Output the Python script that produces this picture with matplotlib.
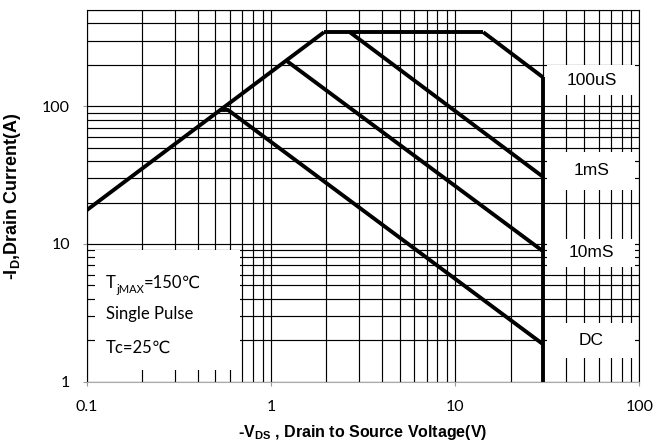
import matplotlib
matplotlib.use('Agg')
import matplotlib.pyplot as plt
from matplotlib.patches import Rectangle
from matplotlib.ticker import FixedLocator, FixedFormatter, NullFormatter, LogLocator

# safe operating area, -Vds (V) vs -Id (A)
rds_v = [0.1, 1.94]
rds_i = [17.6, 345]
top_v = [1.94, 14.2]
top_i = [345, 345]
us100_v = [14.2, 30]
us100_i = [345, 162]
ms1_v = [2.68, 30]
ms1_i = [345, 30.7]
ms10_v = [1.22, 30]
ms10_i = [213, 8.85]
dc_v = [0.53, 0.585, 30]
dc_i = [94, 94, 1.87]
vmax_v = [30, 30]
vmax_i = [1, 162]

x_ticks = [0.1, 1, 10, 100]
x_labels = ['0.1', '1', '10', '100']
y_ticks = [1, 10, 100]
y_labels = ['1', '10', '100']

curve_labels = ['100uS', '1mS', '10mS', 'DC']

fig = plt.figure(figsize=(6.68, 4.45), dpi=100)
ax = fig.add_axes([0.1298, 0.1422, 0.8275, 0.8353])
ax.set_xscale('log')
ax.set_yscale('log')
ax.set_xlim(0.1, 100)
ax.set_ylim(1, 500)

ax.xaxis.set_major_locator(FixedLocator(x_ticks))
ax.xaxis.set_major_formatter(FixedFormatter(x_labels))
ax.yaxis.set_major_locator(FixedLocator(y_ticks))
ax.yaxis.set_major_formatter(FixedFormatter(y_labels))
ax.xaxis.set_minor_locator(LogLocator(base=10, subs=range(2, 10)))
ax.yaxis.set_minor_locator(LogLocator(base=10, subs=range(2, 10)))
ax.xaxis.set_minor_formatter(NullFormatter())
ax.yaxis.set_minor_formatter(NullFormatter())

ax.grid(which='both', color='black', lw=0.85, zorder=1)
ax.set_axisbelow(True)
ax.tick_params(which='major', length=3, color='#999999', width=0.8)
ax.tick_params(axis='x', pad=10)
ax.tick_params(axis='y', pad=9)
ax.tick_params(which='minor', length=0)
for lab in ax.get_xticklabels() + ax.get_yticklabels():
    lab.set_fontfamily('Lato')
    lab.set_fontsize(11.5)
ax.spines['bottom'].set_color('#aaaaaa')
for s in ['left', 'top', 'right']:
    ax.spines[s].set_color('black')
    ax.spines[s].set_linewidth(0.8)

for v, i in [(rds_v, rds_i), (top_v, top_i), (us100_v, us100_i), (ms1_v, ms1_i),
             (ms10_v, ms10_i), (dc_v, dc_i), (vmax_v, vmax_i)]:
    ax.plot(v, i, color='black', lw=2.8, solid_capstyle='butt', zorder=4)

# white boxes behind the curve names
boxes = [(0.771, 0.852), (0.516, 0.618), (0.309, 0.384), (0.064, 0.158)]
for (y0, y1), name in zip(boxes, curve_labels):
    ax.add_patch(Rectangle((0.833, y0), 0.159, y1 - y0, transform=ax.transAxes,
                           facecolor='white', edgecolor='none', zorder=3))
    ax.text(0.913, (y0 + y1) / 2, name, transform=ax.transAxes, ha='center', va='center',
            fontsize=12.5, family='Liberation Sans', zorder=5)

# conditions box
ax.add_patch(Rectangle((0.015, 0.031), 0.262, 0.323, transform=ax.transAxes,
                       facecolor='white', edgecolor='none', zorder=3))
fam = ['Lato', 'DejaVu Sans']
t1 = ax.text(0.035, 0.265, 'T', transform=ax.transAxes, ha='left', va='center',
             fontsize=12, family=fam, zorder=5)
t2 = ax.annotate('jMAX', xy=(1, 0.1), xycoords=t1, ha='left', va='center',
                 fontsize=8, family=fam, zorder=5)
ax.annotate('=150\u2103', xy=(1, 0.5), xycoords=(t2, t1), ha='left', va='center',
            fontsize=12, family=fam, zorder=5)
for k, t in enumerate(['Single Pulse', 'Tc=25\u2103']):
    ax.text(0.035, 0.182 - k * 0.09, t, transform=ax.transAxes, ha='left', va='center',
            fontsize=12, family=fam, zorder=5)

ax.set_xlabel('-V$_{\\mathregular{DS}}$ , Drain to Source Voltage(V)', fontsize=11.5,
              fontweight='bold', family='Liberation Sans', labelpad=7)
ax.set_ylabel('-I$_{\\mathregular{D}}$,Drain Current(A)', fontsize=13,
              fontweight='bold', family='Liberation Sans', labelpad=14)

fig.savefig('out.png', dpi=100)
